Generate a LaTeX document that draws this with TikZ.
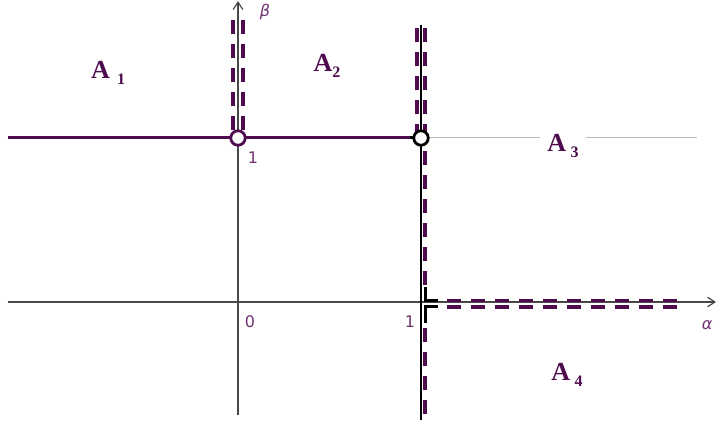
\documentclass[tikz,border=0pt]{standalone}
\usepackage{fontspec}
\newfontfamily\regionfont{Liberation Serif}
\newfontfamily\tickfont{DejaVu Sans}
\usetikzlibrary{arrows.meta}
\definecolor{PlotPurple}{RGB}{78,12,78}
\definecolor{TickPurple}{RGB}{112,52,112}
\definecolor{AxisGray}{RGB}{72,72,72}
\definecolor{GuideGray}{RGB}{190,190,190}
\tikzset{
  axis/.style={-{Straight Barb[length=2.6mm,width=3.4mm]},line width=1.2pt,draw=AxisGray},
  edge/.style={line width=1.3pt,draw=black},
  guide/.style={line width=1pt,draw=GuideGray},
  bound/.style={line width=3pt,draw=PlotPurple},
  dashbound/.style={line width=3.3pt,draw=PlotPurple,dash pattern=on 14pt off 10pt},
  corner/.style={line width=3pt,draw=black},
  hole/.style={circle,line width=2.8pt,fill=white,minimum size=14.5pt,inner sep=0pt},
  region/.style={font=\regionfont\bfseries\fontsize{26}{29}\selectfont,text=PlotPurple,inner sep=0pt},
  tick/.style={font=\tickfont\fontsize{16}{18}\selectfont,text=TickPurple,inner sep=0pt}
}
\newcommand{\regsub}[1]{\raisebox{-0.22em}{\fontsize{16}{18}\selectfont #1}}
\begin{document}
\begin{tikzpicture}[x=183pt,y=164pt]
  \useasboundingbox (-1.30055,-0.75) rectangle (2.61749,1.84146);
  % key points
  \coordinate (left) at (-1.257,1);
  \coordinate (bend) at (0.94,1);
  \coordinate (guideend) at (2.508,1);
  \coordinate (aleft) at (-1.257,0);
  \coordinate (aright) at (2.612,0);
  \coordinate (bbot) at (0,-0.689);
  \coordinate (btop) at (0,1.835);
  \coordinate (etop) at (1,1.69);
  \coordinate (ebot) at (1,-0.72);
  % guide line and region A3
  \draw[guide] (1,1) -- (guideend);
  \node[region,fill=white,inner xsep=7pt] (A3) at (1.776,0.951) {A\,\regsub{3}};
  % axes
  \draw[axis] (aleft) -- (aright);
  \draw[axis] (bbot) -- (btop);
  \draw[edge] (ebot) -- (etop);
  % dashed boundaries
  \draw[dashbound] ([xshift=-5pt]0,1.72) -- ([xshift=-5pt]0,1.02);
  \draw[dashbound] ([xshift=5pt]0,1.72) -- ([xshift=5pt]0,1.02);
  \draw[dashbound] ([xshift=-4pt]1,1.67) -- ([xshift=-4pt]1,1.02);
  \draw[dashbound] ([xshift=4pt]1,1.67) -- ([xshift=4pt]1,1.02);
  \draw[dashbound] ([xshift=4pt]1,0.92) -- ([xshift=4pt]1,0.10);
  \draw[dashbound] ([xshift=4pt]1,-0.16) -- ([xshift=4pt]1,-0.72);
  \draw[dashbound] ([yshift=1.5pt]1.142,0) -- ([yshift=1.5pt]2.443,0);
  \draw[dashbound] ([yshift=-5pt]1.142,0) -- ([yshift=-5pt]2.443,0);
  % black corner at (1,0)
  \draw[corner] ([xshift=4pt]1,0.091) -- ([shift={(4pt,1.5pt)}]1,0) -- ([shift={(17pt,1.5pt)}]1,0);
  \draw[corner] ([shift={(17pt,-5pt)}]1,0) -- ([shift={(4pt,-5pt)}]1,0) -- ([xshift=4pt]1,-0.128);
  % solid boundary beta = 1
  \draw[bound] (left) -- (bend);
  \draw[corner] (bend) -- (1,1);
  \node[hole,draw=PlotPurple] (h1) at (0,1) {};
  \node[hole,draw=black] (h2) at (1,1) {};
  % labels
  \node[region] (A1) at (-0.710,1.396) {A\;\regsub{1}};
  \node[region] (A2) at (0.486,1.439) {A\regsub{2}};
  \node[region] (A4) at (1.798,-0.445) {A\,\regsub{4}};
  \node[tick] (t1) at (0.082,0.878) {1};
  \node[tick] (t0) at (0.066,-0.122) {0};
  \node[tick] (ta1) at (0.940,-0.122) {1};
  \node[tick] (alpha) at (2.563,-0.140) {\itshape α};
  \node[tick] (beta) at (0.148,1.768) {\itshape β};
\end{tikzpicture}
\end{document}
